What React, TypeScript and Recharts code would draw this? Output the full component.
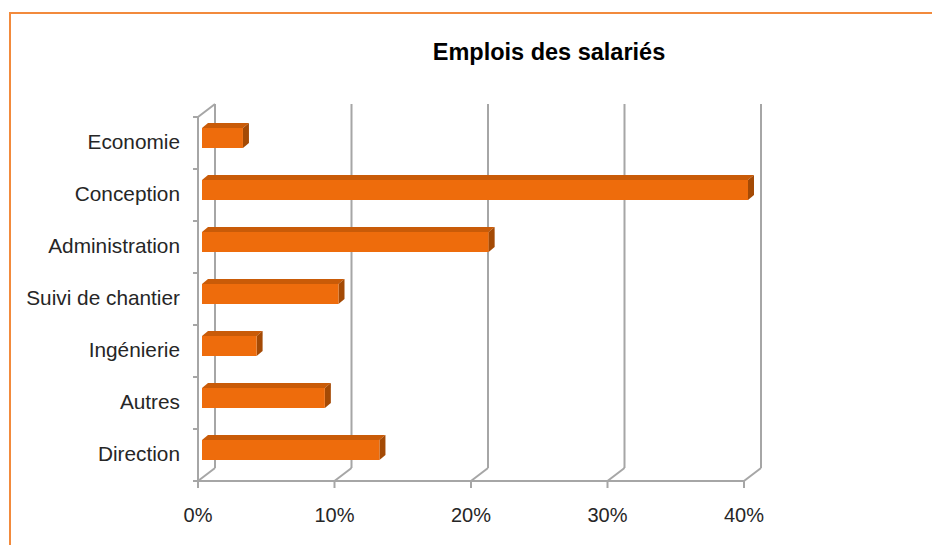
import React from 'react';
import { BarChart, Bar, XAxis, YAxis, CartesianGrid } from 'recharts';

const categories = ['Economie', 'Conception', 'Administration', 'Suivi de chantier', 'Ingénierie', 'Autres', 'Direction'];
const shares = [3, 40, 21, 10, 4, 9, 13];
const percentTicks = [0, 10, 20, 30, 40];
const chartTitle = 'Emplois des salariés';

const data = categories.map((category, i) => ({ category, value: shares[i] }));

const FONT = '"Liberation Sans", Arial, sans-serif';
const GRID = '#A6A6A6';
const DEPTH_X = 17;
const DEPTH_Y = -13;
const BAR_OFF_X = 4;
const BAR_OFF_Y = -5;
const BAR_DX = 6;
const BAR_DY = -5;

function Bar3D(props: any) {
  const { x, y, width, height } = props;
  if (!width || width <= 0) return null;
  const fx = x + BAR_OFF_X;
  const fy = y + BAR_OFF_Y;
  const r = fx + width;
  return (
    <g>
      <polygon
        points={`${fx},${fy} ${fx + BAR_DX},${fy + BAR_DY} ${r + BAR_DX},${fy + BAR_DY} ${r},${fy}`}
        fill="#C95B08"
      />
      <polygon
        points={`${r},${fy} ${r + BAR_DX},${fy + BAR_DY} ${r + BAR_DX},${fy + height + BAR_DY} ${r},${fy + height}`}
        fill="#A44A05"
      />
      <rect x={fx} y={fy} width={width} height={height} fill="#EE6C0C" />
    </g>
  );
}

function WallLine(p: any) {
  const { x1, y1, y2, index } = p;
  return (
    <g key={`wall-${index}-${x1}`}>
      <line x1={x1 + DEPTH_X} y1={y1 + DEPTH_Y} x2={x1 + DEPTH_X} y2={y2 + DEPTH_Y} stroke={GRID} strokeWidth={2} />
      <line x1={x1} y1={y2} x2={x1 + DEPTH_X} y2={y2 + DEPTH_Y} stroke={GRID} strokeWidth={2} />
      {index === 0 && (
        <line x1={x1} y1={y1} x2={x1 + DEPTH_X} y2={y1 + DEPTH_Y} stroke={GRID} strokeWidth={2} />
      )}
    </g>
  );
}

function CategoryTick(props: any) {
  const { x, y, payload, index, visibleTicksCount } = props;
  const half = payload && typeof payload.offset === 'number' && payload.offset > 0 ? payload.offset : 26;
  const last = index === (visibleTicksCount ?? categories.length) - 1;
  return (
    <g>
      <line x1={x + 13} y1={y - half} x2={x + 18} y2={y - half} stroke={GRID} strokeWidth={2} />
      {last && <line x1={x + 13} y1={y + half} x2={x + 18} y2={y + half} stroke={GRID} strokeWidth={2} />}
      <text x={x} y={y} dy={6} textAnchor="end" fill="#262626" fontSize={20.8} fontFamily={FONT}>
        {payload.value}
      </text>
    </g>
  );
}

export default function App() {
  return (
    <div style={{ position: 'absolute', left: 0, top: 0, width: 932, height: 545, overflow: 'hidden', background: '#fff' }}>
      <div
        style={{
          position: 'absolute',
          left: 9,
          top: 12,
          width: 960,
          height: 600,
          borderTop: '2px solid #F28A3C',
          borderLeft: '2px solid #F28A3C',
        }}
      />
      <div
        style={{
          position: 'absolute',
          left: 349,
          width: 400,
          top: 40,
          textAlign: 'center',
          fontFamily: FONT,
          fontWeight: 'bold',
          fontSize: 23.5,
          lineHeight: '24px',
          color: '#000',
        }}
      >
        {chartTitle}
      </div>
      <div style={{ position: 'absolute', left: 0, top: 0 }}>
        <BarChart
          width={932}
          height={545}
          data={data}
          layout="vertical"
          margin={{ top: 117, right: 188, bottom: 24, left: 78 }}
          barSize={20}
        >
          <CartesianGrid horizontal={false} vertical={WallLine} />
          <XAxis
            type="number"
            domain={[0, 40]}
            ticks={percentTicks}
            tickFormatter={(v: number) => `${v}%`}
            height={40}
            tickSize={7}
            tickMargin={20}
            axisLine={{ stroke: GRID, strokeWidth: 2 }}
            tickLine={{ stroke: GRID, strokeWidth: 2 }}
            tick={{ fill: '#262626', fontSize: 20, fontFamily: FONT }}
            interval={0}
          />
          <YAxis
            type="category"
            dataKey="category"
            width={120}
            tickSize={0}
            tickMargin={18}
            tickLine={false}
            axisLine={{ stroke: GRID, strokeWidth: 2 }}
            tick={CategoryTick}
            interval={0}
          />
          <Bar dataKey="value" shape={Bar3D} isAnimationActive={false} />
        </BarChart>
      </div>
    </div>
  );
}
